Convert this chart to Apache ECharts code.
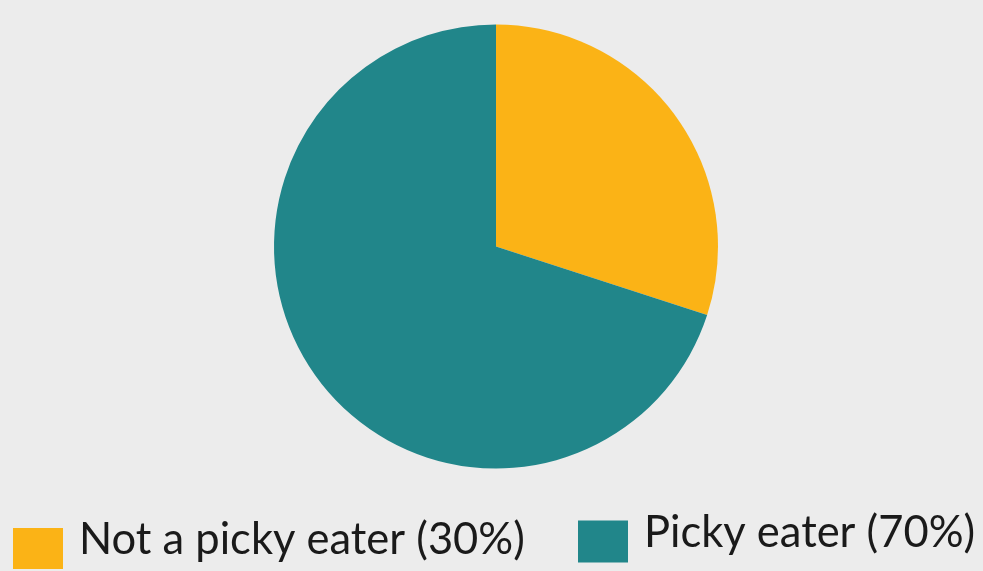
<!DOCTYPE html>
<html>
<head>
<meta charset="utf-8">
<script src="https://cdn.jsdelivr.net/npm/echarts@6/dist/echarts.min.js"></script>
<style>
html,body{margin:0;padding:0;background:#ececec;}
#c{width:983px;height:571px;}
</style>
</head>
<body>
<div id="c"></div>
<script>
const categories = ["Not a picky eater (30%)", "Picky eater (70%)"];
const values = [30, 70];
const colors = ["#fbb316", "#21868a"];

const chart = echarts.init(document.getElementById('c'));
const legendText = {
  rich: {
    t: {
      fontFamily: 'Lato',
      fontSize: 43.5,
      color: '#1a1a1a',
      padding: [0, 0, 17, 11]
    }
  }
};
chart.setOption({
  backgroundColor: '#ececec',
  animation: false,
  legend: [
    {
      data: [categories[0]],
      left: 13,
      top: 518,
      padding: 0,
      itemWidth: 50,
      itemHeight: 41,
      icon: 'rect',
      formatter: '{t|{name}}',
      textStyle: legendText
    },
    {
      data: [categories[1]],
      left: 578,
      top: 511,
      padding: 0,
      itemWidth: 50,
      itemHeight: 42,
      icon: 'rect',
      formatter: '{t|{name}}',
      textStyle: legendText
    }
  ],
  series: [{
    type: 'pie',
    center: [496, 246.5],
    radius: 222,
    startAngle: 90,
    clockwise: true,
    label: {show: false},
    labelLine: {show: false},
    emphasis: {disabled: true},
    itemStyle: {borderWidth: 0},
    data: categories.map((n, i) => ({name: n, value: values[i], itemStyle: {color: colors[i]}}))
  }]
});
</script>
</body>
</html>
